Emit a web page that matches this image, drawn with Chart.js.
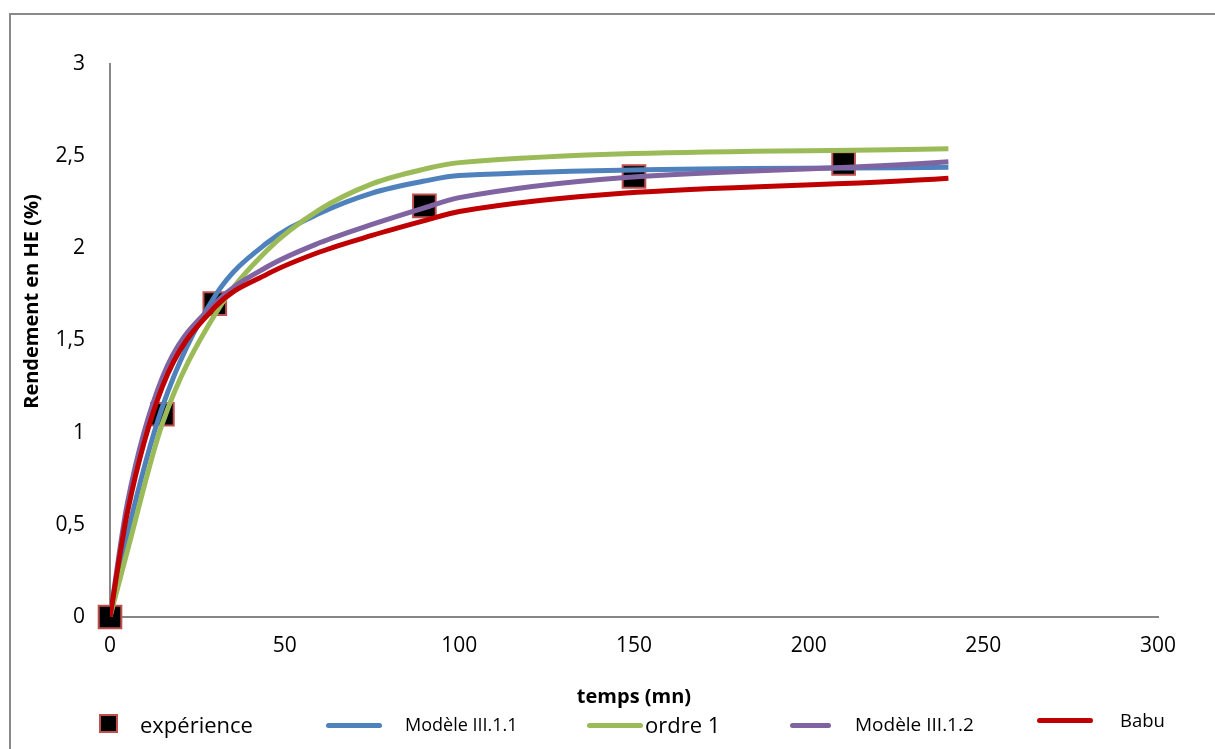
<!DOCTYPE html>
<html>
<head>
<meta charset="utf-8">
<script src="https://cdn.jsdelivr.net/npm/chart.js@4.4.1/dist/chart.umd.min.js"></script>
<style>
  body { margin: 0; background: #fff; }
  #wrap { position: relative; width: 1215px; height: 749px; overflow: hidden; }
  #legend { position: absolute; left: 0; top: 0; width: 1215px; height: 749px; pointer-events: none;
            font-family: "Open Sans", sans-serif; color: #000; }
  .lg-line { position: absolute; height: 5px; border-radius: 3px; }
  .lg-box { position: absolute; width: 15px; height: 15px; background: #000; border: 2px solid #c0504d; }
  .lg-text { position: absolute; white-space: nowrap; transform: translateY(-50%); }
</style>
</head>
<body>
<div id="wrap">
  <canvas id="chart" width="1215" height="749"></canvas>
  <div id="legend"></div>
</div>
<script>
// experimental points
const timeExp = [0, 15, 30, 90, 150, 210];
const yieldExp = [0, 1.1, 1.7, 2.23, 2.39, 2.46];

// model curves
const timeModel = [0, 5, 15, 30, 45, 60, 75, 90, 100, 240];
const modele111 = [0, 0.45, 1.14, 1.74, 2.03, 2.19, 2.30, 2.365, 2.395, 2.44];
const ordre1 = [0, 0.36, 1.05, 1.64, 1.99, 2.21, 2.35, 2.43, 2.465, 2.54];
const modele112 = [0, 0.62, 1.30, 1.70, 1.90, 2.03, 2.13, 2.22, 2.275, 2.47];
const babu = [0, 0.57, 1.25, 1.68, 1.86, 1.98, 2.07, 2.15, 2.20, 2.38];

const seriesNames = ['expérience', 'Modèle III.1.1', 'ordre 1', 'Modèle III.1.2', 'Babu'];
const seriesColors = ['#000000', '#4f81bd', '#9bbb59', '#8064a2', '#c00000'];

const xTicks = [0, 50, 100, 150, 200, 250, 300];
const yTicks = [0, 0.5, 1, 1.5, 2, 2.5, 3];

function pts(xs, ys) {
    return xs.map((x, i) => ({ x: x, y: ys[i] }));
}

function modelSet(label, color, values, order) {
    return {
        label: label,
        data: pts(timeModel, values),
        showLine: true,
        borderColor: color,
        backgroundColor: color,
        borderWidth: 5,
        pointRadius: 0,
        cubicInterpolationMode: 'monotone',
        order: order
    };
}

// outer frame of the chart object
const framePlugin = {
    id: 'frame',
    beforeDraw(chart) {
        const ctx = chart.ctx;
        ctx.save();
        ctx.fillStyle = '#fff';
        ctx.fillRect(0, 0, chart.width, chart.height);
        ctx.strokeStyle = '#898989';
        ctx.lineWidth = 2;
        ctx.strokeRect(10, 14, 1400, 1000);
        ctx.restore();
    }
};

// the sheet's title sits a bit above the middle of the axis
const yTitle = ' '.repeat(15) + 'Rendement en HE (%)';

const ctx = document.getElementById('chart').getContext('2d');
const chart = new Chart(ctx, {
    type: 'scatter',
    data: {
        datasets: [
            {
                label: seriesNames[0],
                data: pts(timeExp, yieldExp),
                showLine: false,
                pointStyle: 'rect',
                pointRadius: 16,
                pointHoverRadius: 16,
                backgroundColor: '#000',
                borderColor: '#c0504d',
                borderWidth: 2,
                clip: false,
                order: 5
            },
            modelSet(seriesNames[1], seriesColors[1], modele111, 4),
            modelSet(seriesNames[2], seriesColors[2], ordre1, 3),
            modelSet(seriesNames[3], seriesColors[3], modele112, 2),
            modelSet(seriesNames[4], seriesColors[4], babu, 1)
        ]
    },
    options: {
        responsive: false,
        animation: false,
        layout: { padding: { left: 10, top: 64, right: 57, bottom: 40 } },
        plugins: {
            legend: { display: false },
            tooltip: { enabled: false }
        },
        scales: {
            x: {
                type: 'linear',
                min: 0,
                max: 300,
                afterBuildTicks: scale => { scale.ticks = xTicks.map(v => ({ value: v })); },
                afterFit: scale => { scale.height = 92; },
                grid: { display: false, drawTicks: false },
                border: { display: true, color: '#868686', width: 2 },
                ticks: { padding: 16, color: '#000', font: { family: 'Open Sans', size: 21 } },
                title: {
                    display: true,
                    text: 'temps (mn)',
                    color: '#000',
                    padding: { top: 7, bottom: 0 },
                    font: { family: 'Open Sans', size: 20, weight: 'bold' }
                }
            },
            y: {
                min: 0,
                max: 3,
                afterBuildTicks: scale => { scale.ticks = yTicks.map(v => ({ value: v })); },
                afterFit: scale => { scale.width = 100; },
                grid: { display: false, drawTicks: false },
                border: { display: true, color: '#868686', width: 2 },
                ticks: {
                    padding: 25,
                    color: '#000',
                    font: { family: 'Open Sans', size: 21 },
                    callback: v => String(v).replace('.', ',')
                },
                title: {
                    display: true,
                    text: yTitle,
                    color: '#000',
                    padding: { top: 10, bottom: 0 },
                    font: { family: 'Open Sans', size: 20, weight: 'bold' }
                }
            }
        }
    },
    plugins: [framePlugin]
});

// legend along the bottom, like the original sheet
const legendLayout = [
    { mark: 'box', x1: 99, x2: 117, tx: 140, y: 724, size: 22 },
    { mark: 'line', x1: 326, x2: 382, tx: 405, y: 724, size: 18 },
    { mark: 'line', x1: 587, x2: 643, tx: 645, y: 724, size: 22 },
    { mark: 'line', x1: 790, x2: 831, tx: 855, y: 724, size: 19 },
    { mark: 'line', x1: 1037, x2: 1093, tx: 1120, y: 719, size: 18.5 }
];
const legendEl = document.getElementById('legend');
seriesNames.forEach((name, i) => {
    const l = legendLayout[i];
    const m = document.createElement('div');
    if (l.mark === 'box') {
        m.className = 'lg-box';
        m.style.left = l.x1 + 'px';
        m.style.top = (l.y - 10) + 'px';
    } else {
        m.className = 'lg-line';
        m.style.left = l.x1 + 'px';
        m.style.width = (l.x2 - l.x1) + 'px';
        m.style.top = (l.y + 1 - 2.5) + 'px';
        m.style.background = seriesColors[i];
    }
    legendEl.appendChild(m);
    const t = document.createElement('div');
    t.className = 'lg-text';
    t.textContent = name;
    t.style.left = l.tx + 'px';
    t.style.top = l.y + 'px';
    t.style.fontSize = l.size + 'px';
    legendEl.appendChild(t);
});
</script>
</body>
</html>
